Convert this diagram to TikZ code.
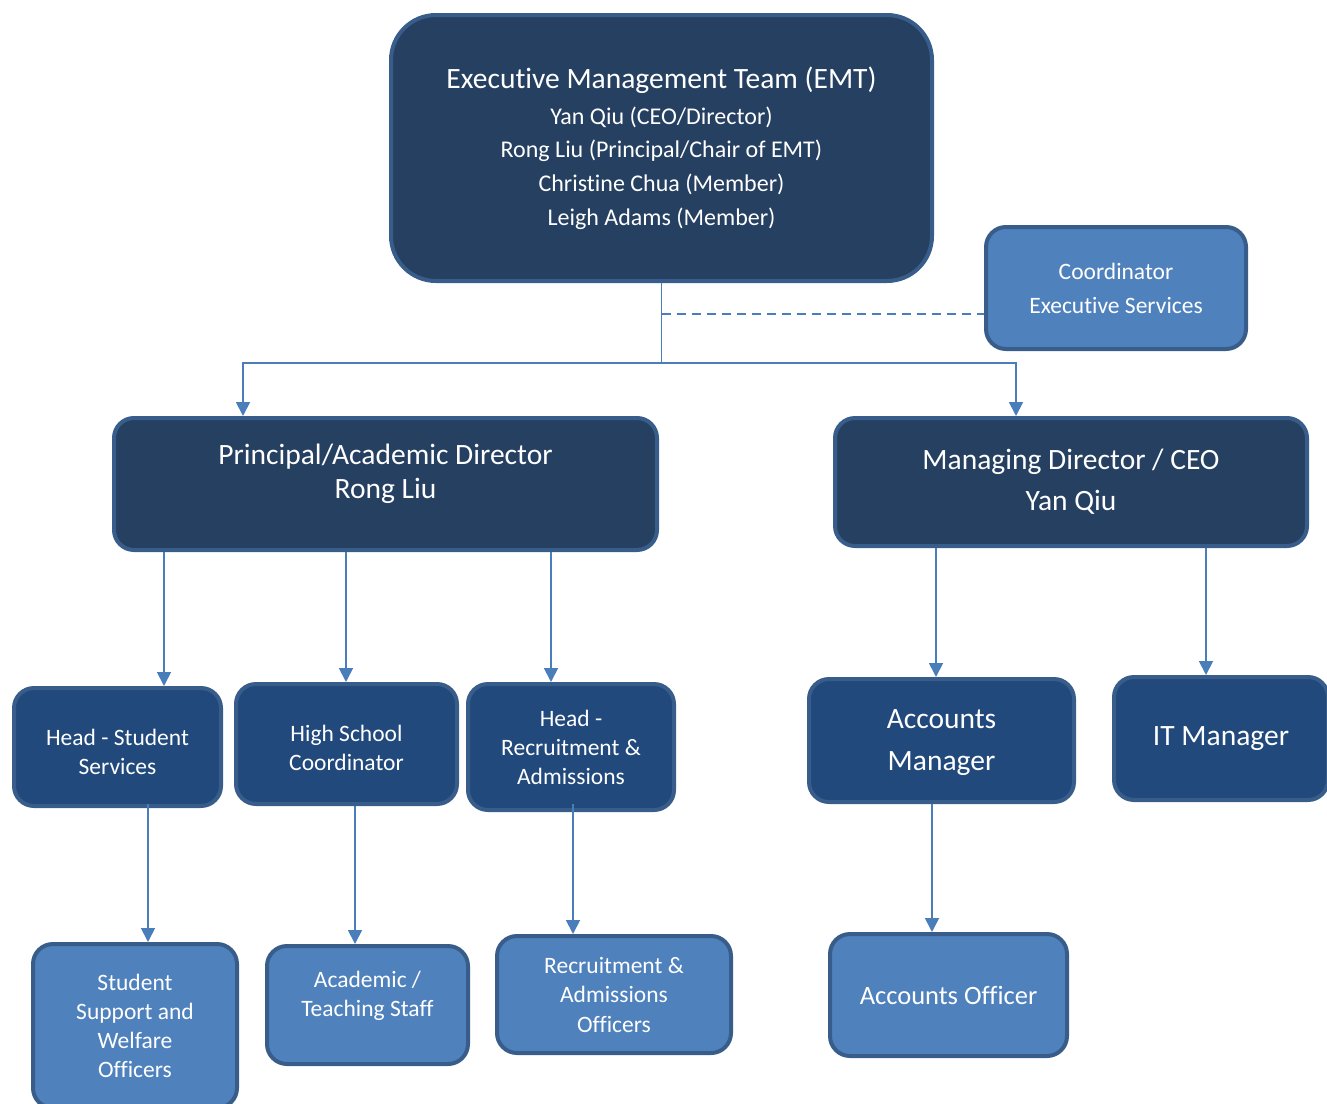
\documentclass[tikz,border=0pt]{standalone}
\usepackage{fontspec}
\setmainfont{Carlito}[Ligatures=NoCommon]
\usetikzlibrary{arrows.meta,positioning,calc}
\definecolor{navy}{RGB}{38,64,97}
\definecolor{deepnavy}{RGB}{33,73,124}
\definecolor{officeblue}{RGB}{79,129,189}
\definecolor{edgeblue}{RGB}{56,93,138}
\definecolor{linkblue}{RGB}{74,126,187}

\begin{document}
\begin{tikzpicture}[
  x=1pt, y=-1pt,
  box/.style={draw=edgeblue, line width=4pt, rounded corners=20pt, text=white, align=center, inner sep=0pt},
  topbox/.style={box, fill=navy},
  midbox/.style={box, fill=deepnavy},
  lowbox/.style={box, fill=officeblue},
  small/.style={font=\fontsize{23.5}{29}\selectfont},
  big/.style={font=\fontsize{29.5}{34}\selectfont},
  link/.style={line width=1.8pt, linkblue},
  arrow/.style={link, -{Triangle[width=14pt,length=14pt]}},
  dotlink/.style={link, dash pattern=on 9pt off 6pt}
]
\useasboundingbox (0,0) rectangle (1327,1103);

% Executive team and side office
\node[topbox, rounded corners=45pt, minimum width=541pt, minimum height=266pt, font=\fontsize{24}{33.7}\selectfont] (emt) at (661.5,148)
  {{\fontsize{29.5}{30}\selectfont Executive Management Team (EMT)}\\[2pt]
   Yan Qiu (CEO/Director)\\
   Rong Liu (Principal/Chair of EMT)\\
   Christine Chua (Member)\\
   Leigh Adams (Member)};
\node[lowbox, font=\fontsize{23.5}{34}\selectfont, minimum width=260pt, minimum height=122pt] (coord) at (1116,288)
  {Coordinator\\Executive Services};

% Directors
\node[topbox, big, minimum width=543pt, minimum height=132pt, text depth=25pt] (prin) at (385.5,484)
  {Principal/Academic Director\\Rong Liu};
\node[topbox, font=\fontsize{29.5}{41}\selectfont, minimum width=472pt, minimum height=128pt] (md) at (1071,482)
  {Managing Director / CEO\\Yan Qiu};

% Heads and managers
\node[midbox, small, minimum width=207pt, minimum height=118pt, text height=56pt] (hss) at (117.5,747) {Head - Student\\Services};
\node[midbox, small, minimum width=221pt, minimum height=120pt, text height=54pt] (hsc) at (346.5,744) {High School\\Coordinator};
\node[midbox, small, minimum width=206pt, minimum height=126pt] (hra) at (571,747) {Head -\\Recruitment \&\\Admissions};
\node[midbox, font=\fontsize{29.5}{42}\selectfont, minimum width=265pt, minimum height=123pt, text height=65pt] (acm) at (941.5,740.5) {Accounts\\Manager};
\node[midbox, font=\fontsize{29.5}{34}\selectfont, minimum width=214pt, minimum height=123pt] (itm) at (1221,738.5) {IT Manager};

% Staff
\node[lowbox, small, minimum width=204pt, minimum height=164pt] (ssw) at (135,1026) {Student\\Support and\\Welfare\\Officers};
\node[lowbox, small, minimum width=201pt, minimum height=118pt, text depth=23pt] (acs) at (367.5,1005) {Academic /\\Teaching Staff};
\node[lowbox, font=\fontsize{23.5}{29.5}\selectfont, minimum width=234pt, minimum height=117pt] (rao) at (614,994.5) {Recruitment \&\\Admissions\\Officers};
\node[lowbox, font=\fontsize{26.5}{30}\selectfont, minimum width=237pt, minimum height=122pt] (aco) at (948.5,995) {Accounts Officer};

% arrow ends
\coordinate (split) at (emt.south |- 0,363);
\coordinate (prinin) at ([xshift=-142.5pt]prin.north);
\coordinate (mdin) at ([xshift=-55pt]md.north);
\coordinate (hssin) at ([xshift=46.5pt]hss.north);
\coordinate (hscin) at ([xshift=-0.5pt]hsc.north);
\coordinate (hrain) at ([xshift=-20pt]hra.north);
\coordinate (acmin) at ([xshift=-5.5pt]acm.north);
\coordinate (itmin) at ([xshift=-15pt]itm.north);
\coordinate (sswin) at ([xshift=13pt]ssw.north);
\coordinate (acsin) at ([xshift=-12.5pt]acs.north);
\coordinate (raoin) at ([xshift=-41pt]rao.north);
\coordinate (acoin) at ([xshift=-16.5pt]aco.north);

% Connectors
\draw[link] (emt.south) -- (split);
\draw[dotlink] (emt.south |- 0,314) -- (coord.west |- 0,314);
\draw[arrow] (split) -| (prinin);
\draw[arrow] (split) -| (mdin);
\foreach \t in {hssin,hscin,hrain}
  \draw[arrow] (\t |- prin.south) -- (\t);
\foreach \t in {acmin,itmin}
  \draw[arrow] (\t |- md.south) -- (\t);
\draw[arrow] ([yshift=4pt]sswin |- hss.south) -- (sswin);
\draw[arrow] (acsin |- hsc.south) -- (acsin);
\draw[arrow] ([yshift=8pt]raoin |- hra.south) -- (raoin);
\draw[arrow] (acoin |- acm.south) -- (acoin);

\end{tikzpicture}
\end{document}
